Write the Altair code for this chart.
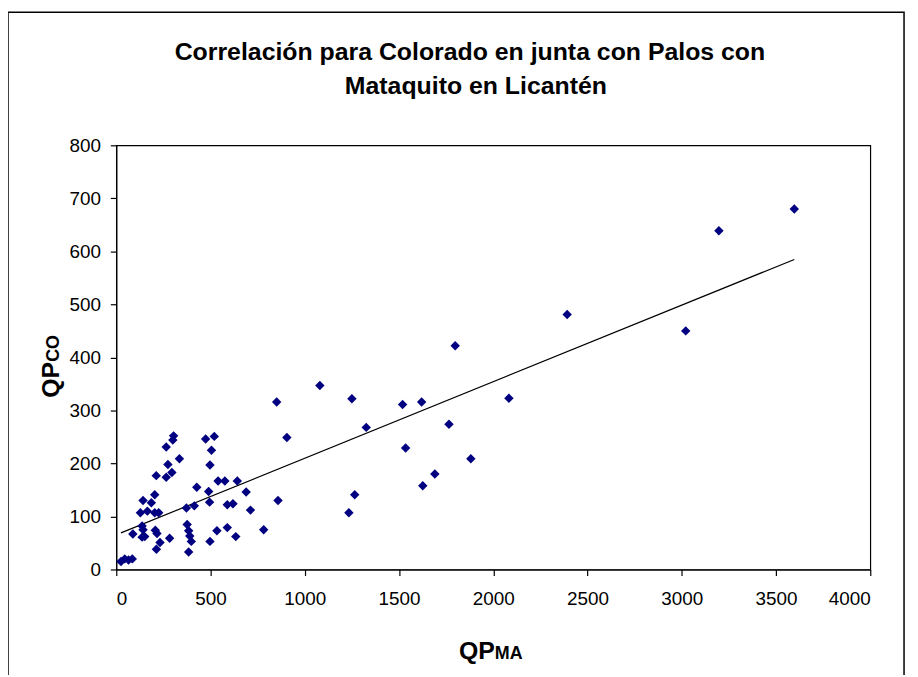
import altair as alt
import pandas as pd

# Data
qp_ma = [25, 45, 65, 85, 88, 137, 142, 137, 151, 128, 142, 165, 186, 204, 204, 225,
         207, 216, 232, 213, 283, 212, 265, 274, 295, 265, 304, 300, 335,
         372, 376, 384, 390, 398, 384, 414, 427, 474, 520, 505, 497, 490, 495, 497,
         540, 576, 534, 589, 619, 589, 634, 642, 689, 712, 782, 858, 851, 905,
         1080, 1250, 1234, 1265, 1326, 1519, 1535, 1620, 1626, 1690, 1765, 1881,
         1798, 2083, 2392, 3021, 3197, 3597]
qp_co = [15, 20, 18, 20, 67, 82, 75, 61, 62, 107, 130, 110, 126, 141, 107, 107,
         74, 68, 51, 38, 59, 177, 174, 198, 183, 231, 252, 244, 209,
         116, 85, 73, 63, 53, 33, 120, 155, 246, 251, 225, 197, 147, 127, 53,
         167, 167, 73, 122, 124, 79, 62, 167, 146, 112, 75, 130, 316, 249,
         347, 322, 107, 141, 268, 311, 229, 316, 158, 180, 274, 209,
         422, 323, 481, 450, 639, 680]

x_ticks = [0, 500, 1000, 1500, 2000, 2500, 3000, 3500, 4000]
y_ticks = [0, 100, 200, 300, 400, 500, 600, 700, 800]

title_lines = ["Correlación para Colorado en junta con Palos con", "Mataquito en Licantén"]

df = pd.DataFrame({"QPMA": qp_ma, "QPCO": qp_co})
FONT = "Liberation Sans"

x_scale = alt.Scale(domain=[0, 4000], nice=False)
y_scale = alt.Scale(domain=[0, 800], nice=False)

base = alt.Chart(df)

points = base.mark_point(shape="diamond", filled=True, size=90, color="#000080", opacity=1).encode(
    x=alt.X("QPMA:Q", scale=x_scale,
            axis=alt.Axis(values=x_ticks, format="d", title=None, labelFontSize=19, labelPadding=14,
                          tickSize=6, labelFont=FONT)),
    y=alt.Y("QPCO:Q", scale=y_scale,
            axis=alt.Axis(values=y_ticks, format="d", title=None, labelFontSize=19, labelPadding=10,
                          tickSize=6, labelFont=FONT)),
)

trend = base.mark_line(color="black", strokeWidth=1.2).transform_regression(
    "QPMA", "QPCO", method="linear"
).encode(x=alt.X("QPMA:Q", scale=x_scale), y=alt.Y("QPCO:Q", scale=y_scale))

one = pd.DataFrame({"a": [0]})

frame = alt.Chart(one).mark_rect(fill="white", fillOpacity=0, stroke="black", strokeWidth=1.5).encode(
    x=alt.value(-109), x2=alt.value(793), y=alt.value(-134), y2=alt.value(560)
)

t1 = alt.Chart(pd.DataFrame({"t": [title_lines[0]]})).mark_text(
    font=FONT, fontSize=25, fontWeight="bold", align="center", baseline="alphabetic", color="black"
).encode(x=alt.value(356), y=alt.value(-86), text="t:N")
t2 = alt.Chart(pd.DataFrame({"t": [title_lines[1]]})).mark_text(
    font=FONT, fontSize=25, fontWeight="bold", align="center", baseline="alphabetic", color="black"
).encode(x=alt.value(362), y=alt.value(-52), text="t:N")

xq = alt.Chart(pd.DataFrame({"t": ["QP"]})).mark_text(
    font=FONT, fontSize=25, fontWeight="bold", align="right", baseline="alphabetic", color="black"
).encode(x=alt.value(381), y=alt.value(517), text="t:N")
xm = alt.Chart(pd.DataFrame({"t": ["MA"]})).mark_text(
    font=FONT, fontSize=18, fontWeight="bold", align="left", baseline="alphabetic", color="black"
).encode(x=alt.value(381), y=alt.value(517), text="t:N")

yq = alt.Chart(pd.DataFrame({"t": ["QP"]})).mark_text(
    font=FONT, fontSize=25, fontWeight="bold", align="right", baseline="alphabetic", color="black", angle=270
).encode(x=alt.value(-58), y=alt.value(218), text="t:N")
yc = alt.Chart(pd.DataFrame({"t": ["CO"]})).mark_text(
    font=FONT, fontSize=18, fontWeight="bold", align="left", baseline="alphabetic", color="black", angle=270
).encode(x=alt.value(-58), y=alt.value(218), text="t:N")

chart = alt.layer(frame, trend, points, t1, t2, xq, xm, yq, yc).properties(
    width=759, height=427,
    autosize=alt.AutoSizeParams(type="none"),
    padding={"left": 109, "top": 136, "right": 40, "bottom": 104},
    background="white",
).configure_view(stroke="black", strokeWidth=1.2).configure_axis(
    grid=False, domainColor="black", tickColor="black", labelColor="black", domainWidth=1.2, tickWidth=1.2
)

chart.save("out.html", embed_options={"renderer": "svg", "actions": False})
